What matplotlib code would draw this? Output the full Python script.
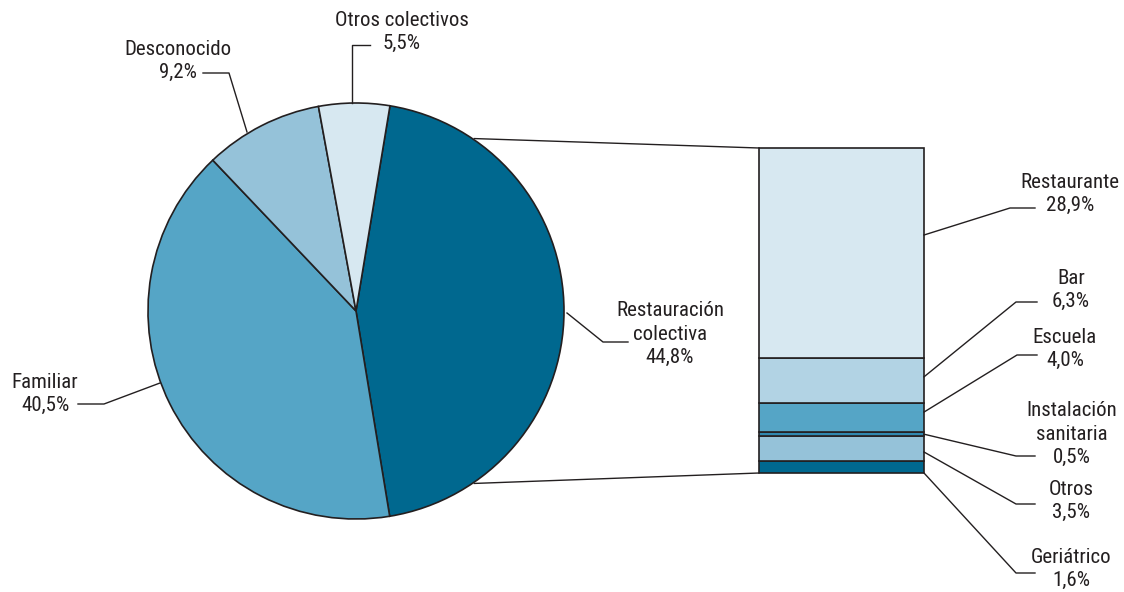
import numpy as np
import matplotlib
matplotlib.use("Agg")
import matplotlib.pyplot as plt
from matplotlib import font_manager as fm

# pie data (clockwise from the restauracion wedge)
pie_labels = ["Restauración\ncolectiva", "Familiar", "Desconocido", "Otros colectivos"]
pie_values = [44.8, 40.5, 9.2, 5.5]
pie_colors = ["#00688f", "#55a5c6", "#95c2d9", "#d7e8f1"]

# breakdown of restauracion colectiva (bottom to top)
bar_labels = ["Geriátrico", "Otros", "Instalación\nsanitaria", "Escuela", "Bar", "Restaurante"]
bar_values = [1.6, 3.5, 0.5, 4.0, 6.3, 28.9]
bar_colors = ["#00688f", "#95c2d9", "#2f88b0", "#55a5c6", "#b2d3e4", "#d7e8f1"]

def fmt(v):
    return ("%.1f%%" % v).replace(".", ",")

# look for a narrow / condensed face, the original uses a condensed grotesque
font = None
fs = 15
for f in fm.fontManager.ttflist:
    nm = f.name + " " + str(f.stretch) + " " + f.fname
    if f.style == "normal" and f.weight in (400, "normal", "regular") and \
            ("Narrow" in nm or "ondensed" in nm):
        if font is None or "Liberation" in f.name or "Roboto" in f.name:
            font = fm.FontProperties(fname=f.fname)
if font is None:
    font = fm.FontProperties(family="Roboto")
    fs = 12.5
font.set_size(fs)

W, H = 1124, 592
fig = plt.figure(figsize=(W / 100, H / 100), dpi=100)
ax = fig.add_axes([0, 0, 1, 1])

edge = "#231f20"
txt = "#231f20"

# pie
cx, cy, r = 356, 281, 208
start = 80.6
ax.pie(pie_values, colors=pie_colors, startangle=start, counterclock=False,
       center=(cx, cy), radius=r, frame=True,
       wedgeprops=dict(edgecolor=edge, linewidth=1.2))
ax.set_xlim(0, W)
ax.set_ylim(0, H)
ax.set_aspect('equal')
ax.axis('off')

# stacked bar
bx, bw = 759, 165
btop_px, bbot_px = 444, 119
scale = (btop_px - bbot_px) / sum(bar_values)
heights = np.array(bar_values) * scale
bottoms = bbot_px + np.concatenate([[0], np.cumsum(heights)[:-1]])
ax.bar([bx + bw / 2] * len(bar_values), heights, width=bw, bottom=bottoms,
       color=bar_colors, edgecolor=edge, linewidth=1.2)

# connector lines pie -> bar
a = np.deg2rad(56)
ax.plot([cx + r * np.cos(a) + 2, bx], [cy + r * np.sin(a), btop_px], color=edge, lw=1)
ax.plot([cx + r * np.cos(-a) + 2, bx], [cy + r * np.sin(-a), bbot_px], color=edge, lw=1)

def leader(pts, color=edge):
    xs, ys = zip(*pts)
    ax.plot(xs, ys, color=color, lw=1)

def Y(y):
    return H - y

# pie labels
pie_text = [
    (670, Y(334), [(567, Y(313)), (603, Y(342)), (628, Y(342))]),
    (45, Y(394), [(160, Y(383)), (104, Y(404)), (78, Y(404))]),
    (178, Y(61), [(247, Y(132)), (229, Y(73)), (203, Y(73))]),
    (402, Y(32), [(352, Y(103)), (352, Y(45)), (370, Y(45))]),
]
for lab, v, (tx, ty, pts) in zip(pie_labels, pie_values, pie_text):
    ax.text(tx, ty, lab + "\n" + fmt(v), ha='center', va='center', fontproperties=font,
            color=txt, linespacing=1.3)
    leader(pts)

# bar labels
anchor_frac = [0.0, 0.37, 0.5, 0.7, 0.58, 0.585]
bar_text = [
    (1071, Y(569), (1016, Y(573)), (1035, Y(573))),
    (1071, Y(501), (1016, Y(504)), (1035, Y(504))),
    (1072, Y(434), (1016, Y(456)), (1035, Y(456))),
    (1065, Y(349), (1017, Y(355)), (1037, Y(355))),
    (1071, Y(290), (1016, Y(302)), (1037, Y(302))),
    (1070, Y(194), (1010, Y(208)), (1035, Y(208))),
]
for lab, v, h, b, f, (tx, ty, p1, p2) in zip(bar_labels, bar_values, heights, bottoms,
                                             anchor_frac, bar_text):
    ax.text(tx, ty, lab + "\n" + fmt(v), ha='center', va='center', fontproperties=font,
            color=txt, linespacing=1.3)
    leader([(bx + bw, b + h * f), p1, p2])

fig.savefig("out.png", dpi=100)
